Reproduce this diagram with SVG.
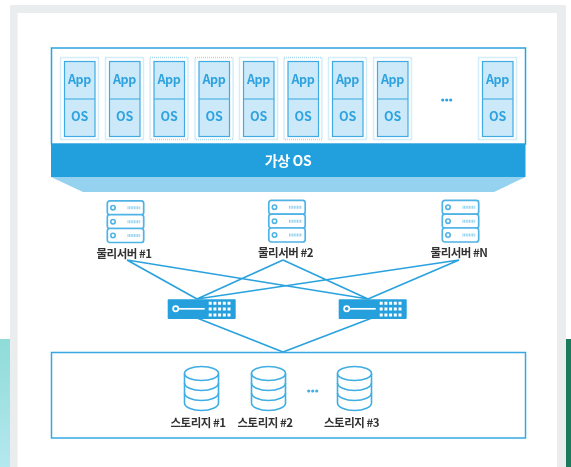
<svg xmlns="http://www.w3.org/2000/svg" width="571" height="467" viewBox="0 0 571 467">
<style>
text{font-family:"Noto Sans CJK KR","Noto Sans",sans-serif;text-anchor:middle}
.vt{font-size:12.5px;font-weight:700;fill:#2fa3df;letter-spacing:-.3px}
.lb{font-size:11.5px;font-weight:700;fill:#333;letter-spacing:-.5px}
.ln{fill:none;stroke:#2ba2de;stroke-width:1.7}
.sv{fill:#fff;stroke:#4fb3e6;stroke-width:1.7}
.db{fill:none;stroke:#3fade4;stroke-width:1.6}
</style>
<defs>
<filter id="soft" x="0" y="0" width="1" height="1"><feGaussianBlur stdDeviation="0.35"/></filter>
<linearGradient id="teal" x1="0" y1="0" x2="0" y2="1"><stop offset="0" stop-color="#8fdcd8"/><stop offset="1" stop-color="#b4e8ef"/></linearGradient>
<g id="vm">
<rect x="-3.500" y="-3.500" width="38" height="82" fill="#fff" stroke="#a9dcf3" stroke-width="1.500" stroke-dasharray="1 1"/>
<rect x=".5" y=".5" width="30.500" height="75" fill="#cbe9f8" stroke="#3fabe3" stroke-width="1.200"/>
<line x1=".5" y1="38" x2="31" y2="38" stroke="#4fb3e6" stroke-width="1.200"/>
</g>
<g id="srv">
<rect x=".8" y=".8" width="36.400" height="14" rx="2.500" class="sv"/>
<rect x=".8" y="14.700" width="36.400" height="14" rx="2.500" class="sv"/>
<rect x=".8" y="28.500" width="36.400" height="14" rx="2.500" class="sv"/>
<g fill="none" stroke="#4fb3e6" stroke-width="1.600"><circle cx="6.500" cy="7.700" r="2.200"/><circle cx="6.500" cy="21.700" r="2.200"/><circle cx="6.500" cy="35.500" r="2.200"/></g>
<g fill="none" stroke="#8fd0ef" stroke-width="3" stroke-dasharray="1 .6"><line x1="21" y1="7.700" x2="34" y2="7.700"/><line x1="21" y1="21.700" x2="34" y2="21.700"/><line x1="21" y1="35.500" x2="34" y2="35.500"/></g>
</g>
<g id="sw">
<rect width="68" height="19.700" rx="1" fill="#25a0dd"/>
<circle cx="8" cy="9.500" r="2.600" fill="none" stroke="#fff" stroke-width="1.700"/>
<line x1="10.600" y1="9.500" x2="37" y2="9.500" stroke="#fff" stroke-width="1.700"/>
<g stroke="#fff" stroke-width="3" stroke-dasharray="3 1.700" fill="none"><line x1="41" y1="4" x2="64" y2="4"/><line x1="41" y1="9.800" x2="64" y2="9.800"/><line x1="41" y1="15.600" x2="64" y2="15.600"/></g>
</g>
<g id="cyl" class="db">
<ellipse cx="17.500" cy="7.500" rx="17" ry="7"/>
<path d="M.5 7.500V37c0 4 7.600 7.500 17 7.500s17-3.500 17-7.500V7.500"/>
<path d="M.5 17c0 4 7.600 7.500 17 7.500s17-3.500 17-7.500M.5 27c0 4 7.600 7.500 17 7.500s17-3.500 17-7.500"/>
</g>
</defs>
<rect width="571" height="467" fill="#fff"/>
<g filter="url(#soft)">
<rect x="0" y="339" width="10" height="128" fill="url(#teal)"/>
<rect x="565" y="339" width="6" height="128" fill="#1f7a5c"/>
<path d="M10 467V5H566V467H557V13H17.500V467Z" fill="#e9eded"/>

<g id="vos-frame">
<path d="M51 177H525.500L494 192H83Z" fill="#95d2ef"/>
<rect x="51.500" y="48" width="474" height="96" fill="#fff" stroke="#2ba2de" stroke-width="1.500"/>
<rect x="51" y="144" width="474.500" height="33" fill="#209fdd"/>
<text x="288" y="166" style="font-size:14px;font-weight:700;fill:#fff;letter-spacing:-.4px">가상 OS</text>
</g>
<g id="vm1"><use href="#vm" x="64" y="61"/><text class="vt" x="79.500" y="84">App</text><text class="vt" x="79.500" y="121">OS</text></g>
<g id="vm2"><use href="#vm" x="109" y="61"/><text class="vt" x="124.500" y="84">App</text><text class="vt" x="124.500" y="121">OS</text></g>
<g id="vm3"><use href="#vm" x="153.500" y="61"/><text class="vt" x="169" y="84">App</text><text class="vt" x="169" y="121">OS</text></g>
<g id="vm4"><use href="#vm" x="198.500" y="61"/><text class="vt" x="214" y="84">App</text><text class="vt" x="214" y="121">OS</text></g>
<g id="vm5"><use href="#vm" x="243" y="61"/><text class="vt" x="258.500" y="84">App</text><text class="vt" x="258.500" y="121">OS</text></g>
<g id="vm6"><use href="#vm" x="287.500" y="61"/><text class="vt" x="303" y="84">App</text><text class="vt" x="303" y="121">OS</text></g>
<g id="vm7"><use href="#vm" x="332" y="61"/><text class="vt" x="347.500" y="84">App</text><text class="vt" x="347.500" y="121">OS</text></g>
<g id="vm8"><use href="#vm" x="377" y="61"/><text class="vt" x="392.500" y="84">App</text><text class="vt" x="392.500" y="121">OS</text></g>
<g id="vm-dots" fill="#2fa3df"><circle cx="442.700" cy="100" r="1.600"/><circle cx="446.700" cy="100" r="1.600"/><circle cx="450.700" cy="100" r="1.600"/></g>
<g id="vm9"><use href="#vm" x="482" y="61"/><text class="vt" x="497.500" y="84">App</text><text class="vt" x="497.500" y="121">OS</text></g>

<g id="connectors" class="ln">
<path d="M127 260L197 299M127 260L368 299M283 260L197 299M283 260L368 299M459 260L197 299M459 260L368 299M197 318L283 352M372 318L283 352"/>
</g>

<g id="server1"><use href="#srv" x="106.500" y="200"/><text class="lb" x="124" y="258">물리서버 #1</text></g>
<g id="server2"><use href="#srv" x="268" y="199.500"/><text class="lb" x="285.500" y="257">물리서버 #2</text></g>
<g id="serverN"><use href="#srv" x="441.500" y="199.500"/><text class="lb" x="459" y="257">물리서버 #N</text></g>
<g id="switch1"><use href="#sw" x="167.700" y="299.300"/></g>
<g id="switch2"><use href="#sw" x="338.700" y="299.300"/></g>

<g id="storage">
<rect x="51.500" y="352.500" width="474" height="85.500" fill="none" stroke="#35a8e2" stroke-width="1.500"/>
</g>
<g id="storage1"><use href="#cyl" x="184" y="366"/><text class="lb" x="198" y="427">스토리지 #1</text></g>
<g id="storage2"><use href="#cyl" x="251" y="366"/><text class="lb" x="265" y="427">스토리지 #2</text></g>
<g id="storage-dots" fill="#3fade4"><circle cx="308.700" cy="391" r="1.600"/><circle cx="312.700" cy="391" r="1.600"/><circle cx="316.700" cy="391" r="1.600"/></g>
<g id="storage3"><use href="#cyl" x="337" y="366"/><text class="lb" x="351.500" y="427">스토리지 #3</text></g>
</g>
</svg>
